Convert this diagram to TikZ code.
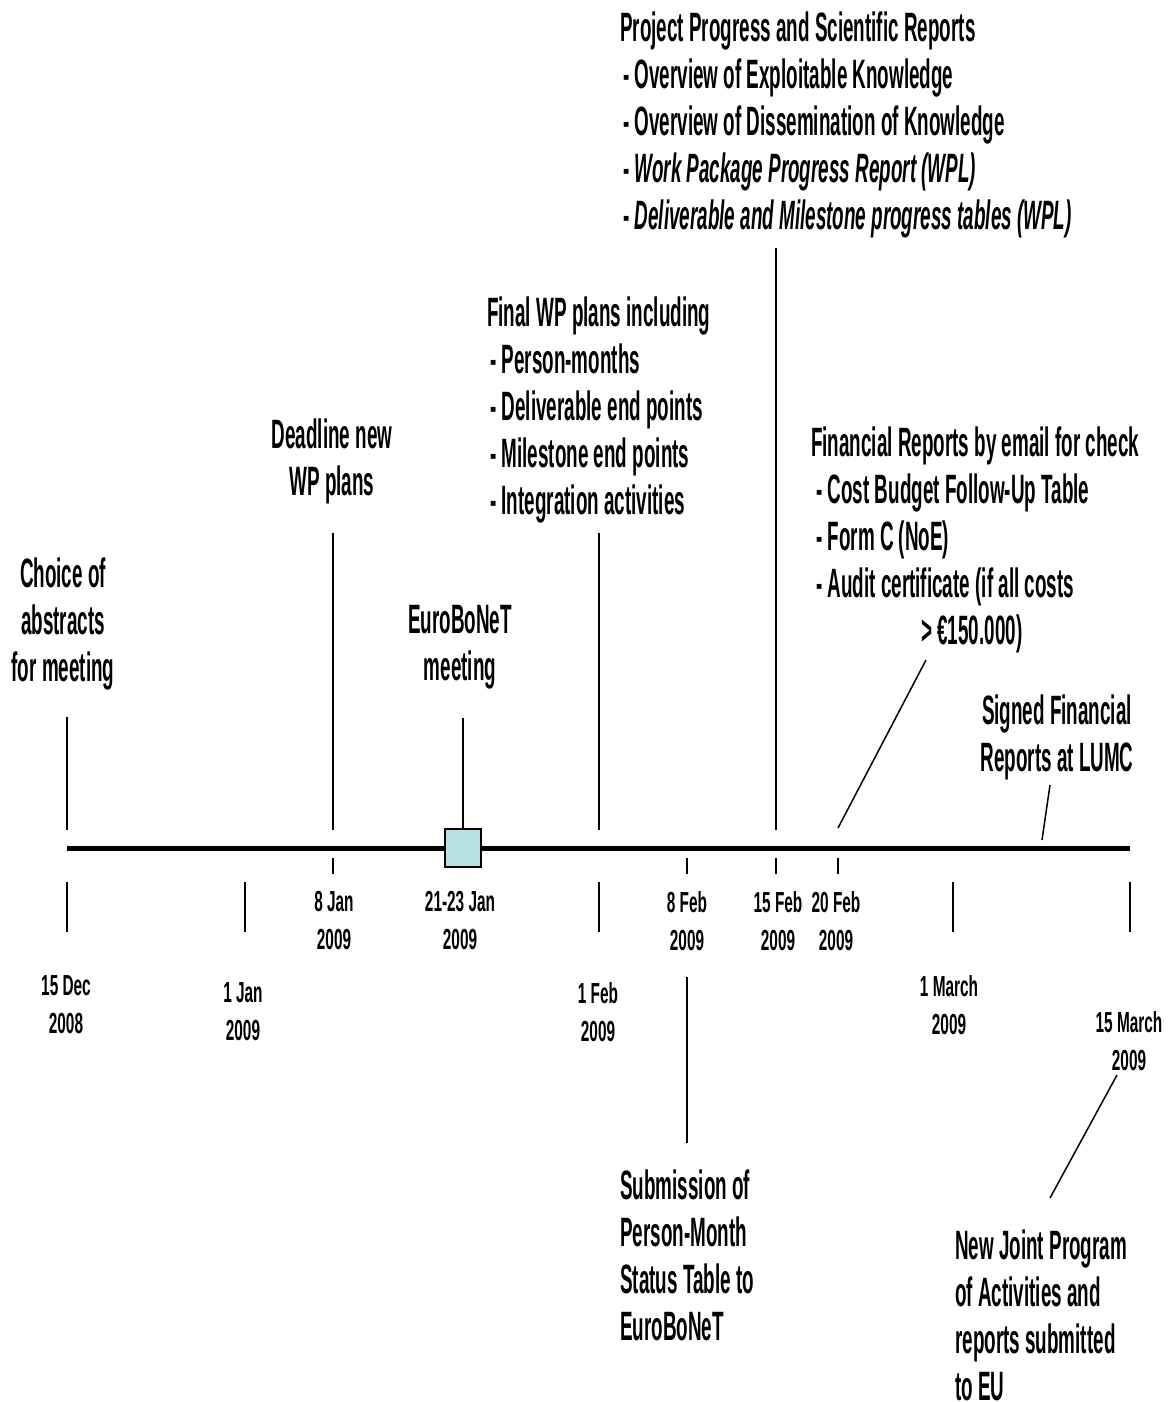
\documentclass[tikz,border=0pt]{standalone}
\usepackage{fontspec}
\setmainfont{Liberation Sans}[FakeStretch=0.46]
\newfontfamily\datefam{Liberation Sans}[FakeStretch=0.53]
\definecolor{boxc}{RGB}{185,224,226}
\newcommand\lblfont{\fontsize{41}{47}\selectfont\bfseries}
\newcommand\datefont{\datefam\fontsize{29}{38}\selectfont\bfseries}
\begin{document}
\begin{tikzpicture}[x=1pt,y=-1pt,
  lbl/.style={inner sep=0pt, font=\lblfont},
  datel/.style={inner sep=0pt, font=\datefont, align=center},
  conn/.style={line width=1.5pt},
  tick/.style={line width=1.3pt}]
\useasboundingbox (0,0) rectangle (1171,1402);

% timeline
\coordinate (tl0) at (67,848);
\coordinate (tl1) at (1130,848);
\draw[line width=5pt] (tl0) -- (tl1);
\node[draw, fill=boxc, line width=1.2pt, minimum width=36pt, minimum height=38pt, inner sep=0pt] (box) at (463,848) {};

% labels above
\node[lbl, align=center] (choice) at (63,624) {Choice of\\abstracts\\for meeting};
\node[lbl, align=center] (deadline) at (332,461) {Deadline new\\WP plans};
\node[lbl, align=center] (meeting) at (460,647) {EuroBoNeT\\meeting};
\node[lbl, align=left, anchor=west] (finalwp) at (487,410) {Final WP plans including\\
\hspace{3pt}- Person-months\\
\hspace{3pt}- Deliverable end points\\
\hspace{3pt}- Milestone end points\\
\hspace{3pt}- Integration activities};
\node[lbl, align=left, anchor=west] (project) at (620,125) {Project Progress and Scientific Reports\\
\hspace{3pt}- Overview of Exploitable Knowledge\\
\hspace{3pt}- Overview of Dissemination of Knowledge\\
\hspace{3pt}- \textit{Work Package Progress Report (WPL)}\\
\hspace{3pt}- \textit{Deliverable and Milestone progress tables (WPL)}};
\node[lbl, align=left, anchor=west] (financial) at (811,540) {Financial Reports by email for check\\
\hspace{5pt}- Cost Budget Follow-Up Table\\
\hspace{5pt}- Form C (NoE)\\
\hspace{5pt}- Audit certificate (if all costs\\
\hspace{110pt}> €150.000)};
\node[lbl, align=center] (signed) at (1057,737) {Signed Financial\\Reports at LUMC};

% labels below
\node[lbl, align=left, anchor=west] (submission) at (620,1255) {Submission of\\Person-Month\\Status Table to\\EuroBoNeT};
\node[lbl, align=left, anchor=west] (newjoint) at (955,1315) {New Joint Program\\of Activities and\\reports submitted\\to EU};

% dates
\node[datel] (d15dec) at (66,1005) {15 Dec\\2008};
\node[datel] (d1jan) at (243,1012) {1 Jan\\2009};
\node[datel] (d8jan) at (334,921) {8 Jan\\2009};
\node[datel] (d21jan) at (460,921) {21-23 Jan\\2009};
\node[datel] (d1feb) at (598,1012) {1 Feb\\2009};
\node[datel] (d8feb) at (687,921) {8 Feb\\2009};
\node[datel] (d15feb) at (778,921) {15 Feb\\2009};
\node[datel] (d20feb) at (836,921) {20 Feb\\2009};
\node[datel] (d1mar) at (949,1005) {1 March\\2009};
\node[datel] (d15mar) at (1129,1041) {15 March\\2009};

% connectors above the timeline
\coordinate (a1t) at (67,717);  \coordinate (a1b) at (67,830);
\coordinate (a2t) at (333,533); \coordinate (a2b) at (333,830);
\coordinate (a3t) at (463,718);
\coordinate (a4t) at (599,533); \coordinate (a4b) at (599,830);
\coordinate (a5t) at (776,248); \coordinate (a5b) at (776,830);
\coordinate (a6t) at (926,660); \coordinate (a6b) at (838,828);
\coordinate (a7t) at (1050,785); \coordinate (a7b) at (1042,840);
\draw[conn] (a1t) -- (a1b);
\draw[conn] (a2t) -- (a2b);
\draw[conn] (a3t) -- (box.north);
\draw[conn] (a4t) -- (a4b);
\draw[conn] (a5t) -- (a5b);
\draw[conn] (a6t) -- (a6b);
\draw[conn] (a7t) -- (a7b);

% short ticks below
\foreach \x/\n in {333/s1,687/s2,776/s3,838/s4}{
  \coordinate (\n t) at (\x,858); \coordinate (\n b) at (\x,874);
  \draw[tick] (\n t) -- (\n b);
}
% long ticks below
\foreach \x/\n in {67/l1,245/l2,599/l3,953/l4,1130/l5}{
  \coordinate (\n t) at (\x,882); \coordinate (\n b) at (\x,932);
  \draw[tick] (\n t) -- (\n b);
}
% connectors below
\coordinate (b1t) at (687,977); \coordinate (b1b) at (687,1143);
\draw[conn] (b1t) -- (b1b);
\coordinate (b2t) at (1117,1075); \coordinate (b2b) at (1050,1198);
\draw[conn] (b2t) -- (b2b);
\end{tikzpicture}
\end{document}
